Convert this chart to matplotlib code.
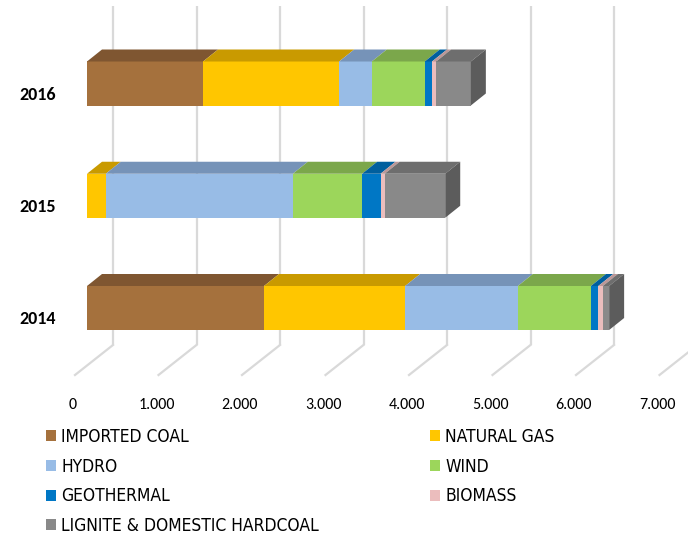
import matplotlib
matplotlib.use('Agg')
import matplotlib.pyplot as plt
from matplotlib.patches import Polygon, Patch
from matplotlib.font_manager import FontProperties
import numpy as np

years = ['2014', '2015', '2016']
sources = ['IMPORTED COAL', 'NATURAL GAS', 'HYDRO', 'WIND', 'GEOTHERMAL', 'BIOMASS',
           'LIGNITE & DOMESTIC HARDCOAL']
imported_coal = [2120, 0, 1390]
natural_gas = [1690, 225, 1630]
hydro = [1350, 2240, 390]
wind = [875, 830, 635]
geothermal = [88, 220, 87]
biomass = [55, 50, 50]
lignite = [75, 725, 415]
xticks = [0, 1000, 2000, 3000, 4000, 5000, 6000, 7000]
xtick_labels = ['0', '1.000', '2.000', '3.000', '4.000', '5.000', '6.000', '7.000']

series = [imported_coal, natural_gas, hydro, wind, geothermal, biomass, lignite]
front_colors = ['#A5713D', '#FFC600', '#98BCE6', '#9CD65B', '#0077C5', '#EBBDBD', '#898989']
top_colors = ['#7F5631', '#C99A00', '#7693B8', '#7BA74B', '#005F9E', '#BC9797', '#6E6E6E']
side_color = '#5C5C5C'

W, H = 688, 538
fig = plt.figure(figsize=(W / 100, H / 100), dpi=100)

# axes: front-face origin at x=87px, 83.5 px per 1000; floor front at y=375px
ax_left, ax_right = 87, 87 + 584.5
ax_top, ax_bot = 6, 375
ax = fig.add_axes([ax_left / W, (H - ax_bot) / H, (ax_right - ax_left) / W, (ax_bot - ax_top) / H])
ax.set_axis_off()
px_x = 83.5 / 1000.0          # pixels per data unit in x
px_y = 112.25                 # pixels per category unit in y
y0 = -(ax_bot - 308) / px_y   # bottom limit so 2014 centre sits at 308px
y1 = y0 + (ax_bot - ax_top) / px_y
ax.set_xlim(0, 7000)
ax.set_ylim(y0, y1)

ypos = np.arange(len(years))
bar_h = 44 / px_y
dx = 15 / px_x
dy = 12 / px_y

# back wall gridlines + floor diagonals
back_dx = 26 / px_x
front_dx = -12 / px_x
floor_back_y = y0 + 30 / px_y
for xt in xticks:
    ax.plot([xt + back_dx, xt + back_dx], [floor_back_y, y1], color='#D9D9D9', lw=1.6,
            zorder=0, clip_on=False, solid_capstyle='butt')
    ax.plot([xt + back_dx, xt + front_dx], [floor_back_y, y0], color='#D9D9D9', lw=1.6,
            zorder=0, clip_on=False)

# bars
for i, y in enumerate(ypos):
    left = 0.0
    last_idx = max(k for k in range(len(series)) if series[k][i] > 0)
    for k, s in enumerate(series):
        v = s[i]
        if v <= 0:
            continue
        ax.barh(y, v, left=left, height=bar_h, color=front_colors[k], linewidth=0, zorder=3)
        yt = y + bar_h / 2
        yb = y - bar_h / 2
        xl, xr = left, left + v
        top = Polygon([(xl, yt), (xr, yt), (xr + dx, yt + dy), (xl + dx, yt + dy)],
                      closed=True, facecolor=top_colors[k], edgecolor='none', zorder=3)
        ax.add_patch(top)
        if k == last_idx:
            side = Polygon([(xr, yb), (xr, yt), (xr + dx, yt + dy), (xr + dx, yb + dy)],
                           closed=True, facecolor=side_color, edgecolor='none', zorder=3)
            ax.add_patch(side)
        left += v

label_family = ['Carlito', 'Lato', 'DejaVu Sans']

# category labels
for y, lab in zip(ypos, years):
    ax.text(-31 / px_x, y - 11 / px_y, lab, ha='right', va='center', fontsize=13,
            fontweight='bold', family=label_family, color='#000000', clip_on=False)

# x tick labels
for xt, lab in zip(xticks, xtick_labels):
    ax.text(xt - 14 / px_x, y0 - 30 / px_y, lab, ha='center', va='center', fontsize=11.5,
            family=label_family, color='#000000', clip_on=False)

# legend: two columns placed separately
leg_size = 12.5
legend_font = FontProperties(family=['DejaVu Sans'], stretch='condensed', size=leg_size)
col1 = [0, 2, 4, 6]
col2 = [1, 3, 5]
fs_px = leg_size * 100 / 72
common = dict(frameon=False, prop=legend_font, handlelength=10 / fs_px, handleheight=10 / fs_px,
              handletextpad=0.3, labelspacing=0.67, borderpad=0,
              borderaxespad=0, loc='upper left')
h1 = [Patch(facecolor=front_colors[k], edgecolor='none') for k in col1]
h2 = [Patch(facecolor=front_colors[k], edgecolor='none') for k in col2]
leg1 = fig.legend(h1, [sources[k] for k in col1], bbox_to_anchor=(46 / W, (H - 428) / H), **common)
leg2 = fig.legend(h2, [sources[k] for k in col2], bbox_to_anchor=(430 / W, (H - 428) / H), **common)

fig.savefig('out.png', dpi=100)
